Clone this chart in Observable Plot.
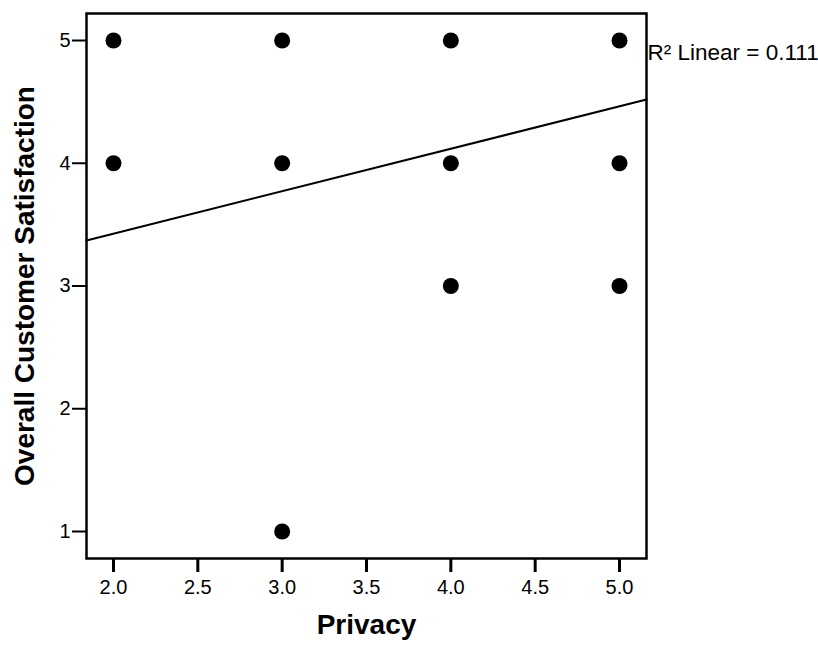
<!DOCTYPE html>
<html>
<head>
<meta charset="utf-8">
<script src="https://cdn.jsdelivr.net/npm/d3@7"></script>
<script src="https://cdn.jsdelivr.net/npm/@observablehq/plot@0.6"></script>
<style>
  html, body { margin: 0; padding: 0; background: #fff; }
  #chart svg { display: block; }
</style>
</head>
<body>
<div id="chart"></div>
<script>
// Observed responses: privacy rating vs. overall customer satisfaction
const privacy      = [2, 2, 3, 3, 3, 4, 4, 4, 5, 5, 5];
const satisfaction = [5, 4, 5, 4, 1, 5, 4, 3, 5, 4, 3];

// Linear fit reported for the scatter
const fitIntercept = 2.735;
const fitSlope = 0.3458;
const rSquared = 0.111;

// Axis settings
const xDomain = [1.84, 5.16];
const yDomain = [0.78, 5.22];
const xTicks = [2.0, 2.5, 3.0, 3.5, 4.0, 4.5, 5.0];
const yTicks = [1, 2, 3, 4, 5];
const xTitle = "Privacy";
const yTitle = "Overall Customer Satisfaction";

const points = privacy.map((p, i) => ({privacy: p, satisfaction: satisfaction[i]}));
const fitLine = xDomain.map(x => ({privacy: x, satisfaction: fitIntercept + fitSlope * x}));

const chart = Plot.plot({
  width: 818,
  height: 649,
  marginLeft: 86,
  marginRight: 172,
  marginTop: 13,
  marginBottom: 91,
  style: {fontFamily: "'Liberation Sans', Arial, sans-serif", fontSize: "20px", background: "#fff", color: "#000"},
  x: {domain: xDomain},
  y: {domain: yDomain},
  marks: [
    Plot.axisX({ticks: xTicks, tickFormat: d3.format(".1f"), tickSize: 14, tickPadding: 7, strokeWidth: 3, fontSize: 20, label: null}),
    Plot.axisY({ticks: yTicks, tickFormat: d3.format("d"), tickSize: 14, tickPadding: 2, strokeWidth: 2, fontSize: 20, label: null}),
    Plot.line(fitLine, {x: "privacy", y: "satisfaction", stroke: "#000", strokeWidth: 2}),
    Plot.dot(points, {x: "privacy", y: "satisfaction", r: 8, fill: "#000", stroke: "none"}),
    Plot.frame({stroke: "#000", strokeWidth: 2.5}),
    Plot.text([`R² Linear = ${rSquared}`], {frameAnchor: "top-right", textAnchor: "start", dx: 1, dy: 31, fontSize: 22.5, fill: "#000"}),
    Plot.text([xTitle], {frameAnchor: "bottom", dy: 75, fontSize: 28, fontWeight: "bold", fill: "#000", letterSpacing: 1}),
    Plot.text([yTitle], {frameAnchor: "left", textAnchor: "middle", dx: -61, rotate: -90, fontSize: 28, fontWeight: "bold", fill: "#000", letterSpacing: 0.8})
  ]
});

document.getElementById("chart").appendChild(chart);
</script>
</body>
</html>
